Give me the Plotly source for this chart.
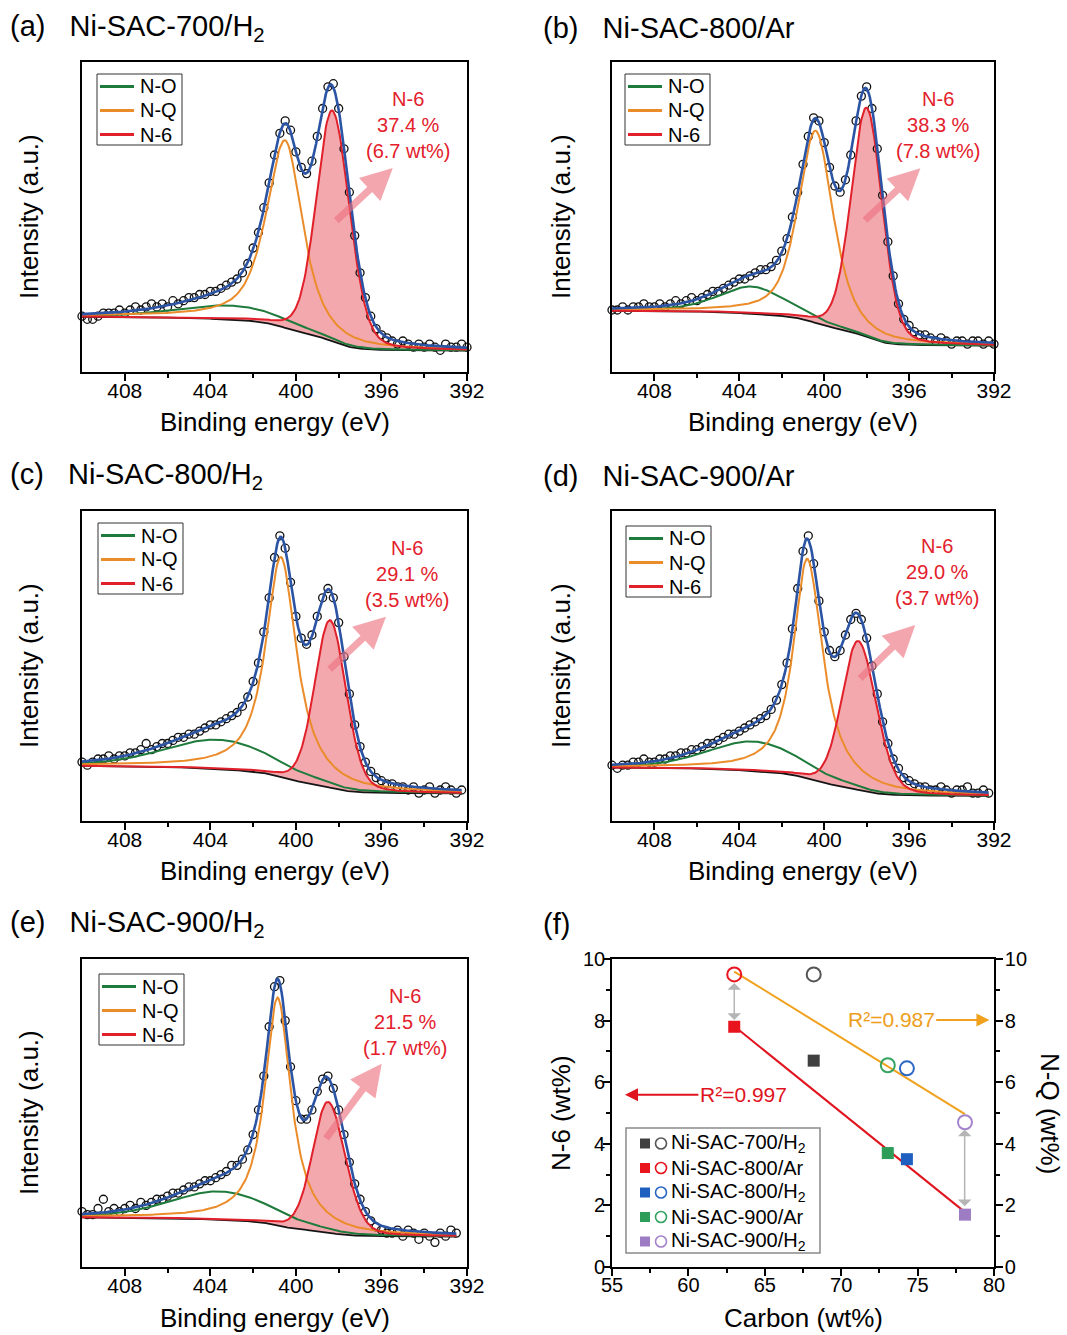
import numpy as np
import plotly.graph_objects as go

W, H = 1067, 1335
FONT = "Liberation Sans, Arial, sans-serif"

# ---------------- XPS N 1s spectra ----------------
sample_names = ["Ni-SAC-700/H<sub>2</sub>", "Ni-SAC-800/Ar", "Ni-SAC-800/H<sub>2</sub>",
                "Ni-SAC-900/Ar", "Ni-SAC-900/H<sub>2</sub>"]
panel_letters = ["(a)", "(b)", "(c)", "(d)", "(e)", "(f)"]
n6_fraction_labels = ["37.4 %", "38.3 %", "29.1 %", "29.0 %", "21.5 %"]
n6_wt_labels = ["(6.7 wt%)", "(7.8 wt%)", "(3.5 wt%)", "(3.7 wt%)", "(1.7 wt%)"]
component_names = ["N-O", "N-Q", "N-6"]

be_ticks = [408, 404, 400, 396, 392]
be_minor_ticks = [406, 402, 398, 394]
scan_start = 410.0
scan_step = 0.25

# measured intensity (a.u.) from 410 eV downwards in 0.25 eV steps
counts_a = [18, 17, 17, 18, 19, 19, 19, 20, 19, 20,
            21, 20, 21, 22, 21, 22, 21, 23, 22, 23,
            24, 24, 25, 25, 26, 26, 27, 28, 29, 30,
            32, 35, 40, 45, 53, 61, 70, 77, 81, 78,
            71, 66, 64, 68, 76, 85, 92, 93, 85, 72,
            58, 44, 32, 24, 18, 14, 12, 11, 10, 9,
            10, 9, 8, 9, 8, 9, 8, 7, 9, 8,
            8, 9, 8]
counts_b = [20, 20, 21, 20, 21, 21, 22, 21, 21, 22,
            21, 22, 23, 22, 23, 24, 23, 24, 25, 26,
            26, 27, 28, 29, 30, 30, 31, 32, 33, 33,
            34, 36, 39, 43, 50, 58, 67, 76, 82, 81,
            74, 66, 60, 58, 62, 70, 81, 89, 92, 85,
            72, 57, 42, 31, 22, 17, 15, 13, 12, 12,
            11, 10, 11, 10, 9, 10, 10, 9, 10, 10,
            9, 10, 9]
counts_c = [19, 18, 19, 20, 20, 21, 20, 21, 21, 22,
            22, 23, 25, 23, 24, 25, 25, 26, 27, 27,
            28, 28, 29, 30, 31, 31, 32, 33, 34, 35,
            37, 40, 45, 51, 61, 72, 85, 92, 88, 77,
            66, 59, 57, 60, 66, 72, 75, 72, 64, 53,
            41, 31, 24, 19, 16, 14, 13, 12, 12, 11,
            11, 10, 11, 9, 10, 11, 9, 10, 11, 10,
            9, 10]
counts_d = [18, 17, 18, 18, 19, 19, 20, 19, 19, 20,
            20, 21, 21, 22, 22, 23, 23, 24, 25, 25,
            26, 27, 28, 28, 29, 30, 31, 32, 33, 34,
            36, 39, 44, 51, 62, 75, 87, 92, 83, 71,
            61, 55, 53, 55, 60, 65, 67, 65, 59, 50,
            41, 32, 25, 20, 17, 14, 13, 12, 11, 11,
            10, 10, 11, 10, 9, 10, 10, 11, 9, 9,
            10, 9]
counts_e = [18, 17, 17, 19, 22, 18, 19, 18, 19, 20,
            19, 21, 20, 21, 22, 22, 23, 24, 24, 25,
            26, 26, 27, 28, 28, 29, 30, 31, 33, 33,
            35, 38, 43, 51, 62, 78, 91, 93, 80, 65,
            54, 48, 48, 51, 57, 61, 62, 58, 51, 43,
            34, 27, 22, 18, 15, 13, 12, 11, 11, 12,
            10, 12, 11, 9, 11, 10, 8, 11, 10, 12,
            11]
spectra = [counts_a, counts_b, counts_c, counts_d, counts_e]

# fitted components (centre eV, height a.u., FWHM high-BE side, FWHM low-BE side, Lorentz mix)
no_center = [403.0, 403.4, 403.6, 403.3, 403.5]
no_height = [4.5, 8.8, 9.5, 9.5, 9.2]
no_fwhm = [6.0, 3.8, 6.0, 5.2, 5.6]
no_mix = [0.3, 0.5, 0.3, 0.3, 0.3]
nq_center = [400.5, 400.4, 400.7, 400.8, 400.85]
nq_height = [60.5, 62.0, 71.0, 71.0, 74.0]
nq_fwhm_hi = [2.1, 1.95, 1.7, 1.55, 1.45]
nq_fwhm_lo = [1.9, 1.95, 1.75, 1.75, 1.5]
nq_mix = [0.7, 0.6, 0.9, 0.9, 0.95]
n6_center = [398.3, 398.0, 398.4, 398.4, 398.5]
n6_height = [74.5, 74.0, 54.0, 48.0, 42.5]
n6_fwhm_hi = [1.75, 1.73, 1.7, 1.8, 1.7]
n6_fwhm_lo = [1.9, 1.73, 1.76, 2.0, 1.9]
n6_mix = [0.2, 0.2, 0.2, 0.2, 0.2]
bg_high = [17.8, 19.7, 17.8, 17.2, 16.1]
bg_low = [6.9, 8.5, 8.9, 8.1, 9.9]

# ---------------- panel (f) ----------------
f_samples = ["Ni-SAC-700/H<sub>2</sub>", "Ni-SAC-800/Ar", "Ni-SAC-800/H<sub>2</sub>",
             "Ni-SAC-900/Ar", "Ni-SAC-900/H<sub>2</sub>"]
carbon_wt = [68.2, 63.0, 74.3, 73.05, 78.1]
n6_wt = [6.7, 7.8, 3.5, 3.7, 1.7]
nq_wt = [9.5, 9.5, 6.45, 6.55, 4.7]
fit_members = [1, 2, 3, 4]
r2_n6 = "R²=0.997"
r2_nq = "R²=0.987"

# ---------------- styles ----------------
C_NO, C_NQ, C_N6 = "#1E7B3C", "#EB8C2A", "#E0202A"
C_ENV, C_BG = "#2B54A5", "#151515"
PINK = "#F3A8AE"
ARROW_PINK = "rgba(238,112,126,0.62)"
f_sq_colors = ["#404040", "#E8141E", "#1F5FBF", "#2E9D5A", "#9D7CC4"]
f_ci_colors = ["#555555", "#E8141E", "#2A66C4", "#34A363", "#A383CC"]
C_FIT6, C_FITQ = "#E0141E", "#F0A11E"

col_x = [(82, 467), (612, 994)]
row_y = [(62, 372), (511, 821), (959, 1267)]
panel_cell = [(0, 0), (1, 0), (0, 1), (1, 1), (0, 2), (1, 2)]


def px(x):
    return x / W


def py(y):
    return 1 - y / H


def pv(E, c, h, whi, wlo, m):
    w = np.where(E >= c, whi, wlo)
    d = (E - c) / w
    G = np.exp(-4 * np.log(2) * d ** 2)
    L = 1 / (1 + 4 * d ** 2)
    return h * ((1 - m) * G + m * L)


def shirley(E, signal, hi, lo):
    order = np.argsort(E)
    Ea, Sa = E[order], signal[order]
    C = np.concatenate([[0.0], np.cumsum(0.5 * (Sa[1:] + Sa[:-1]) * np.diff(Ea))])
    bga = lo + (hi - lo) * C / C[-1]
    bg = np.empty_like(bga)
    bg[order] = bga
    return bg


fig = go.Figure()
layout = {}
annotations = []
shapes = []


def txt(text, x, y, size, color="black", xanchor="center", angle=0):
    annotations.append(dict(text=text, x=px(x), y=py(y), xref="paper", yref="paper",
                            xanchor=xanchor, yanchor="middle", textangle=angle, showarrow=False,
                            font=dict(size=size, family=FONT, color=color)))


for i in range(6):
    cx, ry = panel_cell[i]
    x0, x1 = col_x[cx]
    y0, y1 = row_y[ry]
    xn = "x" if i == 0 else f"x{i+1}"
    yn = "y" if i == 0 else f"y{i+1}"
    xk = "xaxis" if i == 0 else f"xaxis{i+1}"
    yk = "yaxis" if i == 0 else f"yaxis{i+1}"
    common = dict(showline=True, linewidth=1.6, linecolor="black", mirror=True,
                  showgrid=False, zeroline=False, ticks="outside", tickwidth=1.5,
                  tickcolor="black", automargin=False)
    if i < 5:
        layout[xk] = dict(common, domain=[px(x0), px(x1)], range=[410, 392], anchor=yn,
                          tickvals=be_ticks, ticklen=7, ticklabelstandoff=-8,
                          tickfont=dict(size=21, family=FONT, color="black"),
                          minor=dict(tickvals=be_minor_ticks, ticks="outside", ticklen=4,
                                     tickwidth=1.5, tickcolor="black"))
        layout[yk] = dict(common, domain=[py(y1), py(y0)], range=[0, 100], anchor=xn,
                          showticklabels=False, ticks="")
    else:
        layout[xk] = dict(common, domain=[px(x0), px(x1)], range=[55, 80], anchor=yn,
                          tickvals=[55, 60, 65, 70, 75, 80], ticklen=7, ticklabelstandoff=-8,
                          tickfont=dict(size=20, family=FONT, color="black"),
                          minor=dict(tickvals=[57.5, 62.5, 67.5, 72.5, 77.5], ticks="outside",
                                     ticklen=4, tickwidth=1.5, tickcolor="black"))
        layout[yk] = dict(common, domain=[py(y1), py(y0)], range=[0, 10], anchor=xn,
                          tickvals=[0, 2, 4, 6, 8, 10], ticklen=7, ticklabelstandoff=-6,
                          tickfont=dict(size=20, family=FONT, color="black"),
                          minor=dict(tickvals=[1, 3, 5, 7, 9], ticks="outside", ticklen=4,
                                     tickwidth=1.5, tickcolor="black"))
        layout["yaxis7"] = dict(common, range=[0, 10], overlaying=yn, side="right", anchor=xn,
                                tickvals=[0, 2, 4, 6, 8, 10], ticklen=7, mirror=False,
                                ticklabelstandoff=-2,
                                tickfont=dict(size=20, family=FONT, color="black"),
                                minor=dict(tickvals=[1, 3, 5, 7, 9], ticks="outside", ticklen=4,
                                           tickwidth=1.5, tickcolor="black"))

    title = panel_letters[i] if i == 5 else f"{panel_letters[i]}\u00a0\u00a0\u00a0{sample_names[i]}"
    txt(title, [8, 541][cx], [28, 476, 924][ry], 29, xanchor="left")
    txt("Binding energy (eV)" if i < 5 else "Carbon (wt%)", (x0 + x1) / 2, [422, 871, 1318][ry], 26)
    txt("Intensity (a.u.)" if i < 5 else "N-6 (wt%)", [29, 561][cx], (y0 + y1) / 2, 26, angle=-90)

    if i < 5:
        counts = np.array(spectra[i], dtype=float)
        Ed = scan_start - scan_step * np.arange(len(counts))
        E = np.linspace(scan_start, Ed[-1], 361)
        p_no = pv(E, no_center[i], no_height[i], no_fwhm[i], no_fwhm[i], no_mix[i])
        p_nq = pv(E, nq_center[i], nq_height[i], nq_fwhm_hi[i], nq_fwhm_lo[i], nq_mix[i])
        p_n6 = pv(E, n6_center[i], n6_height[i], n6_fwhm_hi[i], n6_fwhm_lo[i], n6_mix[i])
        bg = shirley(E, p_no + p_nq + p_n6, bg_high[i], bg_low[i])
        env = bg + p_no + p_nq + p_n6

        kw = dict(xaxis=xn, yaxis=yn, hoverinfo="skip", showlegend=False)
        fig.add_trace(go.Scatter(x=E, y=bg, mode="lines", line=dict(width=0), **kw))
        fig.add_trace(go.Scatter(x=E, y=bg + p_n6, mode="lines", line=dict(width=0), fill="tonexty",
                                 fillcolor=PINK, **kw))
        fig.add_trace(go.Scatter(x=E, y=bg, mode="lines", line=dict(color=C_BG, width=1.8), **kw))
        fig.add_trace(go.Scatter(x=Ed, y=counts, mode="markers", cliponaxis=False,
                                 marker=dict(symbol="circle-open", size=8, color="#111111",
                                             line=dict(width=1.3)), **kw))
        for name, comp, col in zip(component_names, [p_no, p_nq, p_n6], [C_NO, C_NQ, C_N6]):
            fig.add_trace(go.Scatter(x=E, y=bg + comp, mode="lines", name=name,
                                     line=dict(color=col, width=2), **kw))
        fig.add_trace(go.Scatter(x=E, y=env, mode="lines", line=dict(color=C_ENV, width=2.6), **kw))

        # key box: frame, line samples, labels
        L, T = [(97, 74), (625, 74), (98, 523), (626, 526), (99, 974)][i]
        shapes.append(dict(type="rect", xref="paper", yref="paper", x0=px(L), x1=px(L + 85),
                           y0=py(T + 71), y1=py(T), line=dict(color="#333333", width=1),
                           fillcolor="white", layer="above"))
        for k, (name, col) in enumerate(zip(component_names, [C_NO, C_NQ, C_N6])):
            yy = T + 12.5 + 24 * k
            shapes.append(dict(type="line", xref="paper", yref="paper", x0=px(L + 3), x1=px(L + 37),
                               y0=py(yy), y1=py(yy), line=dict(color=col, width=3), layer="above"))
            txt(name, L + 41, yy, 20, xanchor="left")

        lab_x = [394.76, 394.62, 394.82, 394.68, 394.9][i]
        lab_y = [79.7, 79.7, 79.7, 80.3, 79.4][i]
        annotations.append(dict(text=f"N-6<br>{n6_fraction_labels[i]}<br>{n6_wt_labels[i]}",
                                x=lab_x, y=lab_y, xref=xn, yref=yn, showarrow=False,
                                xanchor="center", yanchor="middle", align="center",
                                font=dict(size=20, family=FONT, color="#E3202B")))
        tail = [(398.18, 48.4), (398.15, 48.5), (398.49, 48.5), (398.38, 45.5), (398.64, 41.3)][i]
        head = [(395.47, 65.8), (395.47, 65.7), (395.79, 65.9), (395.71, 63.2), (395.99, 66.0)][i]
        annotations.append(dict(text="", x=head[0], y=head[1], ax=tail[0], ay=tail[1],
                                xref=xn, yref=yn, axref=xn, ayref=yn, showarrow=True,
                                arrowhead=2, arrowsize=0.9, arrowwidth=7, arrowcolor=ARROW_PINK,
                                standoff=0, startstandoff=0))
    else:
        cw = np.array(carbon_wt)
        idx = np.array(fit_members)
        k6 = np.polyfit(cw[idx], np.array(n6_wt)[idx], 1)
        kq = np.polyfit(cw[idx], np.array(nq_wt)[idx], 1)
        xf = np.array([cw[idx].min(), cw[idx].max()])
        fig.add_trace(go.Scatter(x=xf, y=np.polyval(kq, xf), mode="lines", xaxis=xn, yaxis="y7",
                                 line=dict(color=C_FITQ, width=2), showlegend=False, hoverinfo="skip"))
        fig.add_trace(go.Scatter(x=xf, y=np.polyval(k6, xf), mode="lines", xaxis=xn, yaxis=yn,
                                 line=dict(color=C_FIT6, width=2), showlegend=False, hoverinfo="skip"))
        for j in range(5):
            fig.add_trace(go.Scatter(x=[carbon_wt[j]], y=[nq_wt[j]], mode="markers", xaxis=xn,
                                     yaxis="y7", showlegend=False, cliponaxis=False,
                                     marker=dict(symbol="circle-open", size=14, color=f_ci_colors[j],
                                                 line=dict(width=2))))
            fig.add_trace(go.Scatter(x=[carbon_wt[j]], y=[n6_wt[j]], mode="markers", xaxis=xn,
                                     yaxis=yn, name=f_samples[j], showlegend=False, cliponaxis=False,
                                     marker=dict(symbol="square", size=12, color=f_sq_colors[j])))
        # key box for panel (f)
        L, T, R, B = 626, 1128, 820, 1253
        shapes.append(dict(type="rect", xref="paper", yref="paper", x0=px(L), x1=px(R),
                           y0=py(B), y1=py(T), line=dict(color="#8A8A8A", width=1.5),
                           fillcolor="white", layer="above"))
        for j in range(5):
            yy = 1143.5 + 24.5 * j
            shapes.append(dict(type="rect", xref="paper", yref="paper", x0=px(640), x1=px(650),
                               y0=py(yy + 5), y1=py(yy - 5), line=dict(width=0),
                               fillcolor=f_sq_colors[j], layer="above"))
            shapes.append(dict(type="circle", xref="paper", yref="paper", x0=px(655.5), x1=px(666.5),
                               y0=py(yy + 5.5), y1=py(yy - 5.5),
                               line=dict(color=f_ci_colors[j], width=1.6), layer="above"))
            txt(f_samples[j], 668.5, yy, 20, xanchor="left")
        txt("N-Q (wt%)", 1050, (y0 + y1) / 2, 26, angle=90)
        annotations.append(dict(text=r2_n6, x=55.85, y=5.59, ax=63.6, ay=5.59, xref=xn, yref=yn,
                                axref=xn, ayref=yn, showarrow=True, arrowhead=2, arrowsize=1.3,
                                arrowwidth=2, arrowcolor=C_FIT6, standoff=0,
                                font=dict(size=21, family=FONT, color=C_FIT6)))
        annotations.append(dict(text=r2_nq, x=79.7, y=8.02, ax=73.27, ay=8.02, xref=xn, yref=yn,
                                axref=xn, ayref=yn, showarrow=True, arrowhead=2, arrowsize=1.3,
                                arrowwidth=2, arrowcolor=C_FITQ, standoff=0,
                                font=dict(size=21, family=FONT, color="#EE9E1A")))
        for (xa, ya0, ya1) in [(63.0, 8.02, 9.27), (78.08, 1.97, 4.51)]:
            annotations.append(dict(text="", x=xa, y=ya0, ax=xa, ay=ya1, xref=xn, yref=yn,
                                    axref=xn, ayref=yn, showarrow=True, arrowhead=1, arrowside="end+start",
                                    arrowsize=1.5, arrowwidth=1.5, arrowcolor="#B5B5B5",
                                    standoff=0, startstandoff=0))

fig.update_layout(width=W, height=H, margin=dict(l=0, r=0, t=0, b=0), paper_bgcolor="white",
                  plot_bgcolor="white", showlegend=False, annotations=annotations, shapes=shapes,
                  **layout)
fig.write_html("out.html")
